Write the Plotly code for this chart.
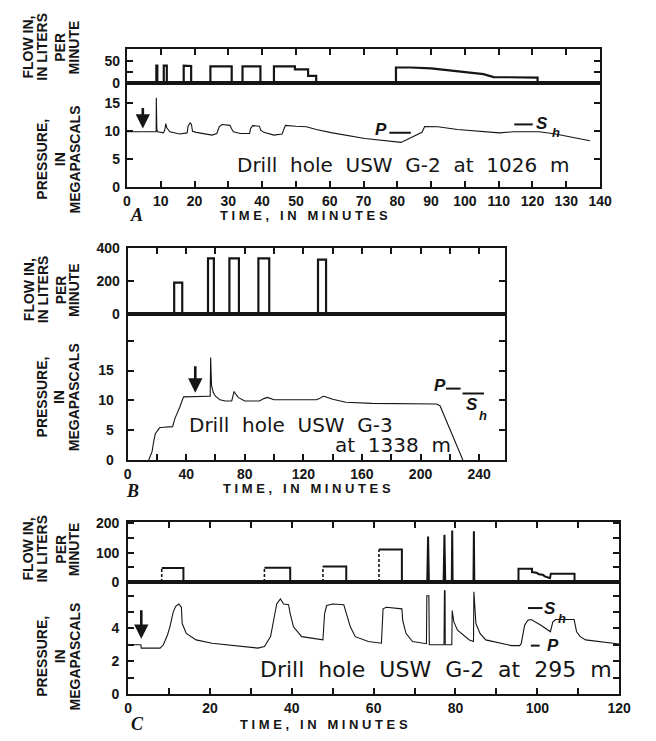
import plotly.graph_objects as go

W, H = 656, 741
def fx(p): return p / W
def fy(p): return 1 - p / H

INK = "#151515"
FONT = "Liberation Sans, Arial, sans-serif"
DFONT = "DejaVu Sans, Verdana, sans-serif"

# ---------------- Panel A : USW G-2 at 1026 m ----------------
a_flow_t = [0, 8.7, 8.7, 9.0, 9.0, 10.9, 10.9, 11.8, 11.8, 16.8, 16.8, 19.0, 19.0,
            24.7, 24.7, 31.0, 31.0, 34.2, 34.2, 39.5, 39.5, 43.5, 43.5, 49.7, 49.7,
            53.6, 53.6, 56.0, 56.0, 79.6, 79.6, 84, 90, 98, 105.5, 108.5, 121.5, 121.5, 140]
a_flow_q = [0, 0, 40, 40, 0, 0, 40, 40, 0, 0, 40, 39, 0,
            0, 38, 38, 0, 0, 38, 38, 0, 0, 38, 38, 31,
            31, 16, 16, 0, 0, 35.5, 35.5, 33.5, 27, 20, 13, 12, 0, 0]
a_pres_t = [0, 8.65, 8.7, 8.85, 9.1, 10.8, 11.2, 11.5, 11.8, 12.7, 15.6, 17.8, 18.1, 18.7,
            19.1, 19.4, 20.5, 25.2, 26.6, 27.3, 28.1, 30.5, 31.0, 31.5, 33.5, 36.3, 36.6,
            37.2, 39.2, 39.6, 40.5, 43.5, 45.9, 46.3, 46.9, 50, 53.1, 56.0, 60.8, 70.4,
            81.1, 87.3, 88.1, 92, 97.8, 110.2, 114.3, 122, 126.8, 137]
a_pres_p = [9.9, 9.9, 16.0, 10.3, 9.9, 9.7, 10.2, 11.35, 10.6, 9.9, 9.5, 9.7, 10.9, 11.5,
            11.2, 10.0, 9.8, 9.3, 9.6, 10.8, 11.2, 11.05, 10.4, 9.9, 9.6, 9.6, 10.5,
            11.0, 10.9, 10.2, 9.8, 9.3, 9.5, 10.3, 11.05, 10.9, 10.8, 10.3, 9.7, 8.7,
            8.0, 9.8, 10.85, 10.8, 10.3, 9.7, 9.9, 9.9, 9.5, 8.3]

# ---------------- Panel B : USW G-3 at 1338 m ----------------
b_flow_t = [0, 31.8, 31.8, 37.3, 37.3, 54.9, 54.9, 58.9, 58.9, 69.5, 69.5, 76.0, 76.0,
            89.3, 89.3, 96.7, 96.7, 130, 130, 135.5, 135.5, 258]
b_flow_q = [0, 0, 189, 189, 0, 0, 335, 335, 0, 0, 335, 335, 0,
            0, 335, 335, 0, 0, 328, 328, 0, 0]
b_pres_t = [14.4, 16.7, 17.8, 18.9, 21.8, 24.4, 30.7, 32.2, 35.5, 38.2, 55.5, 56.4, 56.7,
            57.3, 58.5, 60, 63, 66.7, 71.1, 72.0, 72.7, 74, 75.5, 80, 90, 93, 95.5, 100,
            122, 128.9, 131, 133.5, 135, 140, 149, 166.7, 211, 213.3, 220, 228.9]
b_pres_p = [0, 1.4, 3.1, 4.4, 5.4, 5.5, 5.6, 6.9, 8.8, 10.6, 10.7, 10.7, 17.2,
            12.5, 11.3, 10.7, 10.1, 9.9, 9.9, 10.8, 11.5, 11.0, 10.5, 9.9, 9.9, 10.3, 10.5, 10.1,
            10.1, 10.1, 10.3, 10.7, 10.6, 10.2, 9.7, 9.5, 9.4, 9.1, 5.2, 0]

# ---------------- Panel C : USW G-2 at 295 m ----------------
c_flow_t = [0, 8.2, 8.2, 13.5, 13.5, 33.3, 33.3, 39.6, 39.6, 47.6, 47.6, 53.3, 53.3,
            61.3, 61.3, 66.9, 66.9, 73.1, 73.3, 73.5, 77.1, 77.3, 77.5, 79.1, 79.2, 79.3,
            84.4, 84.5, 84.6, 95.4, 95.4, 98.7, 98.7, 100.0, 100.2, 101.5, 101.7, 103.1,
            103.3, 109.1, 109.1, 120]
c_flow_q = [0, 0, 48, 48, 0, 0, 49, 49, 0, 0, 53, 53, 0,
            0, 111, 111, 0, 0, 155, 0, 0, 161, 0, 0, 176, 0,
            0, 173, 0, 0, 45, 45, 34, 31, 27, 24, 20, 13,
            28, 28, 0, 0]
c_pres_t = [0, 3.1, 3.2, 7.8, 8.6, 9.6, 10.2, 11.0, 11.6, 12.4, 13.0, 13.2, 14.2, 16.6,
            20.5, 31.7, 33.3, 34.8, 35.7, 36.3, 37.2, 38.0, 39.2, 39.6, 40.4, 41.6, 42.4,
            47.6, 48.0, 48.5, 50, 52.7, 53.3, 54.3, 55.5, 58.7, 61.9, 62.3, 63.1, 66.9,
            67.1, 67.9, 69.5, 72.9, 73.0, 73.5, 73.6, 77.2, 77.3, 77.45, 77.5, 79.1, 79.2,
            79.6, 80.5, 83.4, 84.4, 84.5, 85.0, 86, 87.4, 93.7, 95.7, 96.1, 96.9, 97.7,
            98.5, 100.9, 103.2, 103.8, 104.5, 109.0, 109.6, 110.5, 111.8, 117.6, 120]
c_pres_p = [3.0, 3.0, 2.8, 2.8, 3.0, 3.6, 4.1, 5.0, 5.35, 5.5, 5.3, 4.3, 3.7, 3.3,
            3.1, 2.8, 2.9, 3.5, 4.7, 5.5, 5.8, 5.5, 5.45, 4.9, 4.1, 3.7, 3.5,
            3.3, 4.9, 5.4, 5.5, 5.45, 4.9, 4.1, 3.5, 3.2, 3.1, 5.2, 5.3, 5.2,
            4.5, 3.7, 3.2, 3.07, 6.0, 6.0, 3.0, 3.0, 6.3, 6.3, 3.0, 3.0, 5.1,
            4.4, 3.9, 3.3, 3.2, 6.25, 4.3, 3.7, 3.3, 2.95, 2.95, 3.1, 4.2, 4.5,
            4.55, 4.2, 3.8, 4.4, 4.55, 4.55, 3.8, 3.5, 3.3, 3.15, 3.05]

fig = go.Figure()

def line(xs, ys, xa, ya, w, dash="solid"):
    fig.add_trace(go.Scatter(x=xs, y=ys, xaxis=xa, yaxis=ya, mode="lines",
                             line=dict(color=INK, width=w, dash=dash), hoverinfo="skip",
                             showlegend=False, connectgaps=False))

line(a_flow_t, a_flow_q, "x2", "y2", 2.2)
line(a_pres_t, a_pres_p, "x", "y", 1.1)
line(b_flow_t, b_flow_q, "x4", "y4", 2.2)
line(b_pres_t, b_pres_p, "x3", "y3", 1.1)

# Panel C flow: rising edges of the first four pulses are drawn dashed
sol_x, sol_y, dsh_x, dsh_y = [], [], [], []
for i, (t, q) in enumerate(zip(c_flow_t, c_flow_q)):
    if i > 0 and t == c_flow_t[i - 1] and q > c_flow_q[i - 1] and t < 70:
        sol_x.append(None); sol_y.append(None)
        dsh_x += [c_flow_t[i - 1], t, None]; dsh_y += [c_flow_q[i - 1], q, None]
    sol_x.append(t); sol_y.append(q)
line(sol_x, sol_y, "x6", "y6", 2.0)
line(dsh_x, dsh_y, "x6", "y6", 1.6, dash="3px,2px")
line(c_pres_t, c_pres_p, "x5", "y5", 1.1)

tickfont = dict(family=FONT, size=14, color=INK, weight="bold")
common = dict(showline=True, linecolor=INK, linewidth=2, ticks="inside", ticklen=6,
              tickwidth=2, tickcolor=INK, showgrid=False, zeroline=False,
              tickfont=tickfont, fixedrange=True)

def xpair(bot, top, ybot, ytop, x0, x1, rng, tv, tt):
    dom = [fx(x0), fx(x1)]
    fig.layout[bot] = dict(common, domain=dom, anchor=ybot, range=rng, tickvals=tv,
                           ticktext=tt, mirror=True, ticklabelstandoff=0)
    fig.layout[top] = dict(common, domain=dom, anchor=ytop, range=rng, tickvals=tv,
                           showticklabels=False, side="top", mirror=True)

def yax(name, xa, y0, y1, rng, tv, tt, standoff):
    fig.layout[name] = dict(common, domain=[fy(y1), fy(y0)], anchor=xa, range=rng,
                            tickvals=tv, ticktext=tt, mirror="ticks",
                            ticklabelstandoff=standoff)

# Panel A geometry
xpair("xaxis", "xaxis2", "y", "y2", 126, 611, [0, 140], list(range(0, 141, 10)),
      [str(v) for v in range(0, 141, 10)])
yax("yaxis", "x", 76.3, 183, [0, 18.7], [0, 5, 10, 15], ["0", "5", "10", "15"], 2)
yax("yaxis2", "x2", 42, 76.3, [0, 78.7], [0, 25, 50], ["0", "", "50"], 2)

# Panel B geometry
xpair("xaxis3", "xaxis4", "y3", "y4", 126.7, 514, [0, 258], list(range(0, 241, 20)),
      [str(v) if v % 40 == 0 else "" for v in range(0, 241, 20)])
yax("yaxis3", "x3", 312.7, 462, [0, 24.5], [0, 5, 10, 15, 20], ["0", "5", "10", "15", ""], 9)
yax("yaxis4", "x4", 245, 312.7, [0, 400], [0, 200, 400], ["0", "200", "400"], 3)

# Panel C geometry
xpair("xaxis5", "xaxis6", "y5", "y6", 127.3, 630.5, [0, 120], list(range(0, 121, 10)),
      [str(v) if v % 20 == 0 else "" for v in range(0, 121, 10)])
yax("yaxis5", "x5", 586.7, 701, [0, 6.84], [0, 1, 2, 3, 4, 5, 6],
    ["0", "", "2", "", "4", "", ""], 4)
yax("yaxis6", "x6", 525, 586.7, [0, 205.7], [0, 50, 100, 150, 200],
    ["0", "", "100", "", "200"], 4)

ann = []
def txt(s, x, y, size=14, angle=0, xanchor="center", bold=True, italic=False, family=FONT):
    ann.append(dict(text=s, x=fx(x), y=fy(y), xref="paper", yref="paper", showarrow=False,
                    textangle=angle, xanchor=xanchor, yanchor="middle",
                    font=dict(family=family, size=size, color=INK,
                              weight="bold" if bold else "normal",
                              style="italic" if italic else "normal")))

# y-axis titles (rotated, one annotation per line)
for (yc_f, yc_p) in [(40, 155), (288, 398), (553, 663)]:
    for s, xc in [("FLOW IN,", 25), ("IN LITERS", 39.5), ("PER", 58), ("MINUTE", 72)]:
        txt(s, xc, yc_f, size=14, angle=-90)
    for s, xc in [("PRESSURE,", 39), ("IN", 57), ("MEGAPASCALS", 72.5)]:
        txt(s, xc, yc_p, size=14, angle=-90)

NBSP = "\u00a0"
def spaced(s):
    return NBSP.join(list(s.replace(" ", NBSP)))

# x titles (letter-spaced)
txt(spaced("TIME, IN MINUTES"), 307, 212, size=13)
txt(spaced("TIME, IN MINUTES"), 311, 491, size=13)
txt(spaced("TIME, IN MINUTES"), 328, 732.5, size=13)

# panel letters
SERIF = "Liberation Serif, Times New Roman, serif"
txt("A", 136, 212, size=18, italic=True, family=SERIF)
txt("B", 132, 494, size=18, italic=True, family=SERIF)
txt("C", 137, 732, size=18, italic=True, family=SERIF)

NB = "\u00a0 "
txt(NB.join("Drill hole USW G-2 at 1026 m".split(" ")), 409, 160, size=20, bold=False, family=DFONT)
txt(NB.join("Drill hole USW G-3".split(" ")), 188, 426.5, size=20, bold=False, xanchor="left", family=DFONT)
txt(NB.join("at 1338 m".split(" ")), 460, 446.5, size=20, bold=False, xanchor="right", family=DFONT)
txt(NB.join("Drill hole USW G-2 at 295 m".split(" ")), 443, 676, size=22, bold=False, family=DFONT)

# P and Sh labels
txt("P", 386, 124, size=17, italic=True)
txt("S", 551.5, 118, size=17, italic=True)
txt("h", 566, 127, size=13, italic=True)
txt("P", 446.7, 386, size=17, italic=True)
txt("S", 479.5, 405.5, size=17, italic=True)
txt("h", 490.5, 416, size=13, italic=True)
txt("S", 560, 613.5, size=17, italic=True)
txt("h", 571.5, 624, size=13, italic=True)
txt("P", 562.5, 651.5, size=17, italic=True)

# arrows marking start of test
for xr, yr, xv, yv, ay in [("x", "y", 4.7, 10.5, -22), ("x3", "y3", 46.2, 11.3, -28),
                            ("x5", "y5", 3.2, 3.37, -30)]:
    ann.append(dict(x=xv, y=yv, xref=xr, yref=yr, text="", showarrow=True, ax=0, ay=ay,
                    arrowhead=2, arrowsize=1.1, arrowwidth=2.6, arrowcolor=INK, standoff=0))

shapes = []
def dash(x0, x1, y, w=2):
    shapes.append(dict(type="line", xref="paper", yref="paper", x0=fx(x0), x1=fx(x1),
                       y0=fy(y), y1=fy(y), line=dict(color=INK, width=w)))
dash(395, 417, 127.5)
dash(523, 542, 119)
dash(453, 468, 389)
dash(470, 492, 394)
dash(537, 552, 613.3)
dash(540, 549, 651.7)

fig.update_layout(width=W, height=H, margin=dict(l=0, r=0, t=0, b=0),
                  paper_bgcolor="white", plot_bgcolor="white",
                  annotations=ann, shapes=shapes, showlegend=False)
fig.write_html("out.html", config={"responsive": False, "displayModeBar": False},
               post_script="document.body.style.margin='0';document.body.style.overflow='hidden';")
